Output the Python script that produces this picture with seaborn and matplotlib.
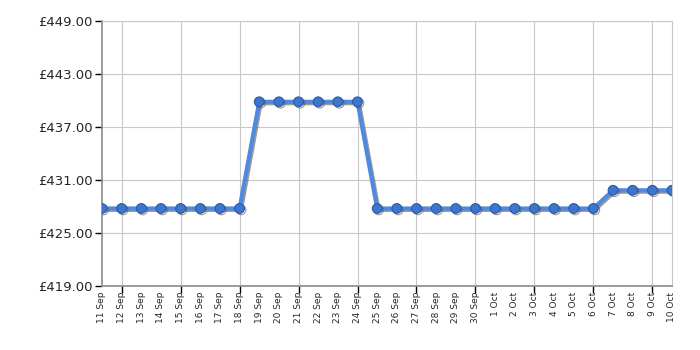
import matplotlib
matplotlib.use("Agg")
import matplotlib.pyplot as plt
import matplotlib.patheffects as pe
from matplotlib.ticker import FixedLocator, FuncFormatter
import seaborn as sns
import pandas as pd

dates = ["11 Sep", "12 Sep", "13 Sep", "14 Sep", "15 Sep", "16 Sep", "17 Sep", "18 Sep",
         "19 Sep", "20 Sep", "21 Sep", "22 Sep", "23 Sep", "24 Sep", "25 Sep", "26 Sep",
         "27 Sep", "28 Sep", "29 Sep", "30 Sep", "1 Oct", "2 Oct", "3 Oct", "4 Oct",
         "5 Oct", "6 Oct", "7 Oct", "8 Oct", "9 Oct", "10 Oct"]
prices = [427.77, 427.77, 427.77, 427.77, 427.77, 427.77, 427.77, 427.77,
          439.85, 439.85, 439.85, 439.85, 439.85, 439.85,
          427.77, 427.77, 427.77, 427.77, 427.77, 427.77, 427.77, 427.77,
          427.77, 427.77, 427.77, 427.77,
          429.83, 429.83, 429.83, 429.83]
y_ticks = [419, 425, 431, 437, 443, 449]

df = pd.DataFrame({"idx": range(len(dates)), "price": prices})

sns.set_theme(style="white")
plt.rcParams["font.family"] = ["DejaVu Sans"]

fig = plt.figure(figsize=(7, 3.5), dpi=100)
ax = fig.add_axes([0.1457, 0.183, 0.8143, 0.757])

sns.lineplot(data=df, x="idx", y="price", ax=ax, color="#4f8ae0", linewidth=3,
             marker="o", markersize=7, markerfacecolor="#3d76cc",
             markeredgecolor="#2a5aa8", markeredgewidth=0.8, zorder=5,
             path_effects=[pe.SimpleLineShadow(offset=(1, -1), shadow_color="#555555", alpha=0.6),
                           pe.Normal()])

ax.set_xlim(0, len(dates) - 1)
ax.set_ylim(y_ticks[0], y_ticks[-1])
ax.set_yticks(y_ticks)
ax.yaxis.set_major_formatter(FuncFormatter(lambda v, p: f"£{v:.2f}"))

major = list(range(1, len(dates), 3))
ax.xaxis.remove_overlapping_locs = False
ax.xaxis.set_major_locator(FixedLocator(major))
ax.xaxis.set_major_formatter(FuncFormatter(lambda v, p: ""))
ax.xaxis.set_minor_locator(FixedLocator(list(range(len(dates)))))
ax.xaxis.set_minor_formatter(FuncFormatter(lambda v, p: dates[int(round(v))]))
ax.tick_params(axis="x", which="minor", length=0, labelsize=6.5, rotation=90, pad=4)
ax.tick_params(axis="x", which="major", length=5, width=1, color="black", direction="out", bottom=True)
ax.tick_params(axis="y", length=5, width=1, color="black", direction="out", left=True, labelsize=9.5, pad=2)

ax.grid(True, which="major", color="#c8c8c8", linewidth=0.8)
ax.set_axisbelow(True)
for s in ["left", "bottom"]:
    ax.spines[s].set_color("#8a8a8a")
    ax.spines[s].set_linewidth(1.2)
for s in ["top", "right"]:
    ax.spines[s].set_color("#c8c8c8")
    ax.spines[s].set_linewidth(0.8)

ax.set_xlabel("")
ax.set_ylabel("")
for lbl in ax.get_xticklabels(minor=True):
    lbl.set_verticalalignment("top")

fig.savefig("out.png", dpi=100)
